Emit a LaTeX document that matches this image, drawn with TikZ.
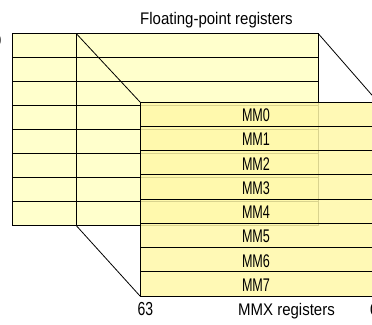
\documentclass[tikz,border=0pt]{standalone}
\usepackage{fontspec}
\setmainfont{Liberation Sans}
\definecolor{fpyellow}{HTML}{FFFFCC}
\definecolor{mmxyellow}{HTML}{FFF8A8}
\begin{document}
\begin{tikzpicture}[x=1pt,y=-1pt,
  regline/.style={draw=black,line width=0.8pt},
  fpcell/.style={regline,fill=fpyellow},
  mmxfill/.style={fill=mmxyellow,fill opacity=0.85},
  lbl/.style={inner sep=0pt,font=\fontsize{15}{15}\selectfont,yscale=1.12},
  mmlbl/.style={inner sep=0pt,font=\fontsize{15}{15}\selectfont,xscale=0.84,yscale=1.22,anchor=base}]
\useasboundingbox (0,0) rectangle (372,324);
\clip (0,0) rectangle (372,324);

% corner points of the two register files
\coordinate (fpTL)  at (12,33.3);
\coordinate (fpTM)  at (76,33.3);
\coordinate (fpTR)  at (318,33.3);
\coordinate (fpBM)  at (76,225.3);
\coordinate (mmxTL) at (140,102);
\coordinate (mmxTR) at (378,102);
\coordinate (mmxBL) at (140,296);

% floating-point register stack: eight rows of 24
\foreach \i in {0,...,7}
  \draw[fpcell] (12,{33.3+24*\i}) rectangle (318,{57.3+24*\i});
\draw[regline] (fpTM) -- (fpBM);

% projection lines from the low 64 bits onto the MMX file
\draw[regline] (fpTM) -- (mmxTL);
\draw[regline] (fpBM) -- (mmxBL);
\draw[regline] (fpTR) -- (mmxTR);

% bit number of the top of the FP register
\node[lbl,anchor=base east] (b79) at (1.6,46) {79};

% MMX register file laid over the FP stack
\fill[mmxfill] (mmxTL) rectangle (378,296);
\foreach \i in {0,...,7} {
  \draw[regline] (140,{102+24.25*\i}) rectangle (378,{126.25+24.25*\i});
  \node[mmlbl] (mm\i) at (256,{121.5+24.25*\i}) {MM\i};
}

% titles and bit numbers
\node[lbl,anchor=base west] (fptitle) at (140,24.5) {Floating-point registers};
\node[lbl,anchor=base] (mmxtitle) at (286.5,315) {MMX registers};
\node[lbl,anchor=base west,font=\fontsize{14}{14}\selectfont,yscale=1.2] (b63) at (137.5,315) {63};
\node[lbl,anchor=base west] (b0) at (370,315) {0};
\end{tikzpicture}
\end{document}
